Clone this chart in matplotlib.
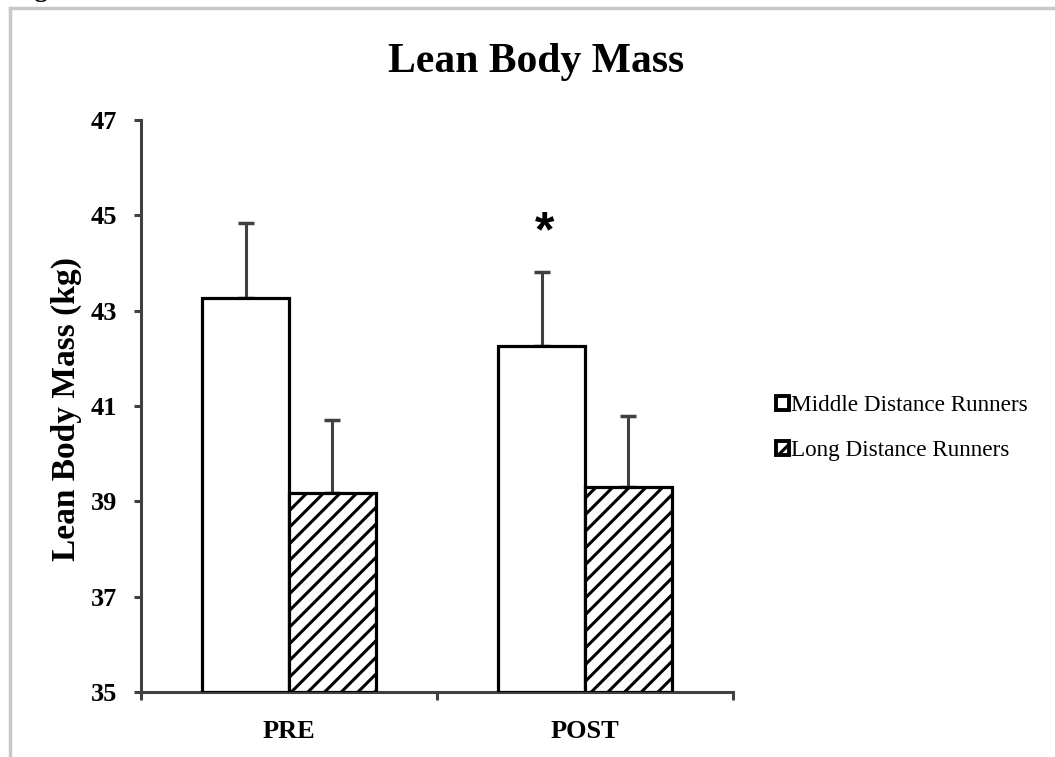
import matplotlib
matplotlib.use("Agg")
import matplotlib.pyplot as plt
from matplotlib.patches import Patch
from matplotlib.lines import Line2D
import numpy as np

plt.rcParams['font.family'] = ['Liberation Serif', 'DejaVu Serif']
plt.rcParams['hatch.linewidth'] = 2.2

categories = ["PRE", "POST"]
series_names = ["Middle Distance Runners", "Long Distance Runners"]
mdr_means = [43.26, 42.25]
mdr_err = [1.57, 1.57]
ldr_means = [39.17, 39.31]
ldr_err = [1.54, 1.47]
yticks = [35, 37, 39, 41, 43, 45, 47]

W, H = 1055, 757
fig = plt.figure(figsize=(W / 100, H / 100), dpi=100)
ax = fig.add_axes([141 / W, 1 - 692 / H, (733 - 141) / W, (692 - 120) / H])

centers = np.arange(len(categories)) + 0.5
bw = 0.293
axis_col = '#404040'

ax.bar(centers - bw / 2, [m - 35 for m in mdr_means], bw, bottom=35,
       color='white', edgecolor='black', linewidth=2.3, zorder=3)
ax.bar(centers + bw / 2, [m - 35 for m in ldr_means], bw, bottom=35,
       color='white', edgecolor='black', linewidth=2.3, hatch='//', zorder=3)
ax.errorbar(centers - bw / 2, mdr_means, yerr=[np.zeros(2), mdr_err], fmt='none',
            ecolor=axis_col, elinewidth=2.2, capsize=5.5, capthick=2.5, zorder=2)
ax.errorbar(centers + bw / 2, ldr_means, yerr=[np.zeros(2), ldr_err], fmt='none',
            ecolor=axis_col, elinewidth=2.2, capsize=5.5, capthick=2.5, zorder=2)

# significance marker
ax.text(centers[1] - bw / 2 + 0.01, mdr_means[1] + mdr_err[1] + 0.8, '*',
        ha='center', va='center', fontsize=36, fontweight='bold',
        family='Liberation Sans', color='black')

ax.set_xlim(0, 2)
ax.set_ylim(35, 47)
ax.set_yticks(yticks)
ax.set_yticklabels([str(t) for t in yticks], fontsize=19, fontweight='bold')
ax.set_xticks([0, 1, 2])
ax.set_xticklabels(['', '', ''])
ax.set_xticks(centers, minor=True)
ax.set_xticklabels(categories, minor=True, fontsize=19, fontweight='bold')
ax.tick_params(axis='x', which='minor', length=0, pad=20)
ax.tick_params(axis='x', which='major', length=6, width=2.2, color=axis_col, direction='out')
ax.tick_params(axis='y', length=5, width=2.2, color=axis_col, direction='out', pad=12)

for s in ['top', 'right']:
    ax.spines[s].set_visible(False)
for s in ['left', 'bottom']:
    ax.spines[s].set_color(axis_col)
    ax.spines[s].set_linewidth(2.2)

fig.text(0.508, 1 - 62 / H, 'Lean Body Mass', ha='center', va='center',
         fontsize=30, fontweight='bold')
fig.text(66 / W, 1 - 409 / H, 'Lean Body Mass (kg)', rotation=90, ha='center',
         va='center', fontsize=24, fontweight='bold')

handles = [Patch(facecolor='white', edgecolor='black', linewidth=2.8),
           Patch(facecolor='white', edgecolor='black', linewidth=2.8, hatch='//')]
fig.legend(handles, series_names, loc='upper left', bbox_to_anchor=(776 / W, 1 - 395 / H),
           frameon=False, fontsize=16.7, handlelength=0.55, handleheight=0.55,
           handletextpad=0.1, labelspacing=1.03, borderaxespad=0, borderpad=0)

# page frame (top and left edges) and clipped caption above
fig.add_artist(Line2D([10 / W, 1], [1 - 8 / H, 1 - 8 / H], color='#c8c8c8', linewidth=2.5,
                      transform=fig.transFigure))
fig.add_artist(Line2D([10 / W, 10 / W], [0, 1 - 8 / H], color='#c8c8c8', linewidth=2.5,
                      transform=fig.transFigure))
fig.text(12 / W, 1 + 3 / H, 'Figure', ha='left', va='baseline', fontsize=19,
         fontweight='bold')

fig.savefig('out.png', dpi=100)
